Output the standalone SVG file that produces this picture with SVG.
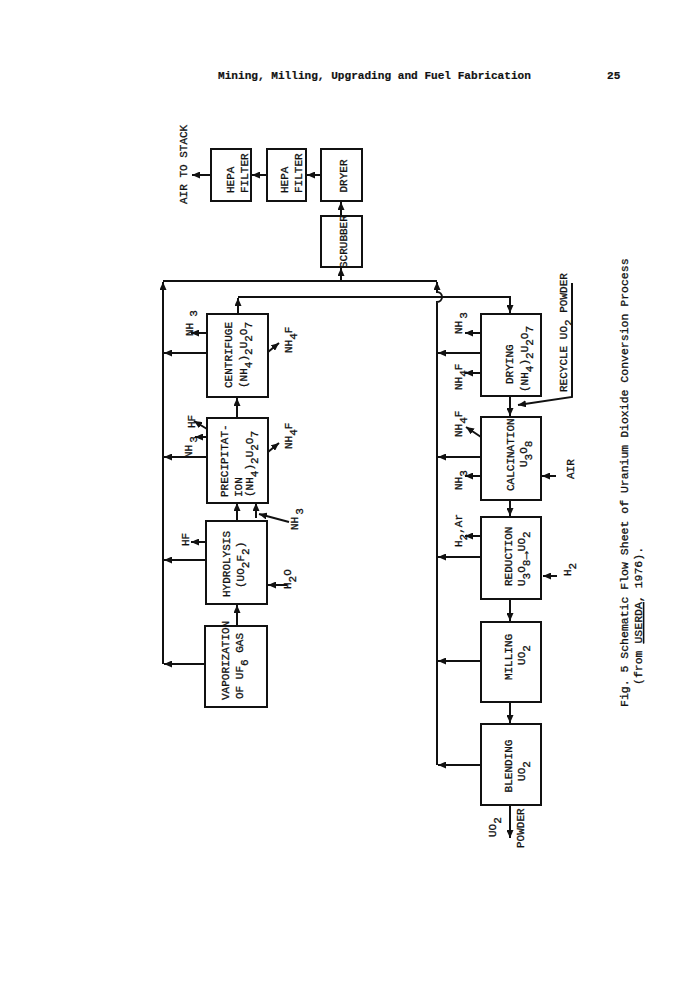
<svg xmlns="http://www.w3.org/2000/svg" width="700" height="1000" viewBox="0 0 700 1000">
<defs>
<marker id="ah" markerUnits="userSpaceOnUse" markerWidth="9" markerHeight="7" refX="8" refY="3.5" orient="auto"><path d="M0,0 L8,3.5 L0,7 z" fill="#111"/></marker>
<style>
.box{fill:#fff;stroke:#111;stroke-width:2}
.ln{fill:none;stroke:#111;stroke-width:2}
.ar{fill:none;stroke:#111;stroke-width:2;marker-end:url(#ah)}
text{font-family:"Liberation Mono","DejaVu Sans Mono",monospace;font-size:11px;fill:#111;stroke:#111;stroke-width:0.3}
.m{text-anchor:middle}
.hd{font-weight:bold;font-size:11.1px;stroke-width:0.2}
.cap{font-size:11.5px}
.big{font-size:14px;font-weight:bold}
</style>
</defs>
<rect width="700" height="1000" fill="#fff"/>

<text class="hd" x="218" y="79">Mining, Milling, Upgrading and Fuel Fabrication</text>
<text class="hd" x="607" y="79">25</text>

<g id="connectors">
<path class="ar" d="M321,175 H307"/>
<path class="ar" d="M267,175 H252"/>
<path class="ar" d="M211,175 H192"/>
<path class="ar" d="M341,216 V202"/>
<path class="ar" d="M341,281 V268"/>
<path class="ln" d="M163,281 H437"/>
<path class="ar" d="M163,664 V282"/>
<path class="ar" d="M437,765 V302 A5,5 0 0 0 437,292 V282"/>
<path class="ar" d="M238,314 V298"/>
<path class="ar" d="M238,297 H510 V313"/>
<path class="ar" d="M207,353 H164"/>
<path class="ar" d="M207,457 H164"/>
<path class="ar" d="M206,560 H164"/>
<path class="ar" d="M205,664 H164"/>
<path class="ar" d="M207,333 H191"/>
<path class="ar" d="M207,437 H195"/>
<path class="ar" d="M207,429 L194,421"/>
<path class="ar" d="M206,542 H191"/>
<path class="ar" d="M268,352 L279,343"/>
<path class="ar" d="M268,452 L279,443"/>
<path class="ar" d="M289,522 L259,514"/>
<path class="ar" d="M256,518 V503"/>
<path class="ar" d="M237,521 V503"/>
<path class="ar" d="M237,626 V605"/>
<path class="ar" d="M237,418 V398"/>
<path class="ar" d="M287,585 H268"/>
<path class="ar" d="M510,396 V416"/>
<path class="ar" d="M510,500 V516"/>
<path class="ar" d="M510,599 V621"/>
<path class="ar" d="M510,702 V723"/>
<path class="ar" d="M510,805 V838"/>
<path class="ar" d="M481,353 H438"/>
<path class="ar" d="M481,457 H438"/>
<path class="ar" d="M481,557 H438"/>
<path class="ar" d="M481,661 H438"/>
<path class="ar" d="M481,765 H438"/>
<path class="ar" d="M481,333 H465"/>
<path class="ar" d="M481,373 H465"/>
<path class="ar" d="M481,437 L466,427"/>
<path class="ar" d="M481,476 H465"/>
<path class="ar" d="M481,536 H465"/>
<path class="ar" d="M556,476 H542"/>
<path class="ar" d="M557,576 H543"/>
<path class="ar" d="M572,283 V397 L518,405"/>
</g>

<g id="hepa1"><rect class="box" x="211" y="149" width="40" height="52"/>
<text transform="translate(234,193) rotate(-90)">HEPA</text>
<text transform="translate(248,193) rotate(-90)">FILTER</text></g>
<g id="hepa2"><rect class="box" x="267" y="149" width="39" height="52"/>
<text transform="translate(288,193) rotate(-90)">HEPA</text>
<text transform="translate(302,193) rotate(-90)">FILTER</text></g>
<g id="dryer"><rect class="box" x="321" y="149" width="41" height="52"/>
<text class="m" transform="translate(347,176) rotate(-90)">DRYER</text></g>
<g id="scrubber"><rect class="box" x="321" y="216" width="41" height="51"/>
<text transform="translate(347,268) rotate(-90)">SCRUBBER</text></g>

<g id="centrifuge"><rect class="box" x="207" y="314" width="61" height="83"/>
<text transform="translate(232,388) rotate(-90)">CENTRIFUGE</text>
<text transform="translate(247,388) rotate(-90)">(NH<tspan dy="5">4</tspan><tspan dy="-5">)</tspan><tspan dy="5">2</tspan><tspan dy="-5">U</tspan><tspan dy="5">2</tspan><tspan dy="-5">O</tspan><tspan dy="5">7</tspan></text></g>
<g id="precipitation"><rect class="box" x="207" y="418" width="61" height="85"/>
<text transform="translate(228,497) rotate(-90)">PRECIPITAT-</text>
<text transform="translate(242,497) rotate(-90)">ION</text>
<text transform="translate(253,497) rotate(-90)">(NH<tspan dy="5">4</tspan><tspan dy="-5">)</tspan><tspan dy="5">2</tspan><tspan dy="-5">U</tspan><tspan dy="5">2</tspan><tspan dy="-5">O</tspan><tspan dy="5">7</tspan></text></g>
<g id="hydrolysis"><rect class="box" x="206" y="521" width="61" height="83"/>
<text transform="translate(230,597) rotate(-90)">HYDROLYSIS</text>
<text transform="translate(244,588) rotate(-90)">(UO<tspan dy="5">2</tspan><tspan dy="-5">F</tspan><tspan dy="5">2</tspan><tspan dy="-5">)</tspan></text></g>
<g id="vaporization"><rect class="box" x="205" y="626" width="62" height="81"/>
<text transform="translate(229,700) rotate(-90)">VAPORIZATION</text>
<text transform="translate(243,699) rotate(-90)">OF UF<tspan dy="5">6</tspan><tspan dy="-5"> GAS</tspan></text></g>

<g id="drying"><rect class="box" x="481" y="314" width="60" height="82"/>
<text transform="translate(513,384) rotate(-90)">DRYING</text>
<text transform="translate(528,392) rotate(-90)">(NH<tspan dy="5">4</tspan><tspan dy="-5">)</tspan><tspan dy="5">2</tspan><tspan dy="-5">U</tspan><tspan dy="5">2</tspan><tspan dy="-5">O</tspan><tspan dy="5">7</tspan></text></g>
<g id="calcination"><rect class="box" x="481" y="417" width="60" height="83"/>
<text transform="translate(514,491) rotate(-90)">CALCINATION</text>
<text transform="translate(527,467) rotate(-90)">U<tspan dy="5">3</tspan><tspan dy="-5">O</tspan><tspan dy="5">8</tspan></text></g>
<g id="reduction"><rect class="box" x="481" y="517" width="60" height="82"/>
<text transform="translate(512,586) rotate(-90)">REDUCTION</text>
<text transform="translate(525,586) rotate(-90)">U<tspan dy="5">3</tspan><tspan dy="-5">O</tspan><tspan dy="5">8</tspan><tspan class="big" dy="-1">→</tspan><tspan dy="-4">UO</tspan><tspan dy="5">2</tspan></text></g>
<g id="milling"><rect class="box" x="481" y="622" width="60" height="80"/>
<text class="m" transform="translate(512,657) rotate(-90)">MILLING</text>
<text class="m" transform="translate(525,655) rotate(-90)">UO<tspan dy="5">2</tspan></text></g>
<g id="blending"><rect class="box" x="481" y="724" width="60" height="81"/>
<text class="m" transform="translate(512,766) rotate(-90)">BLENDING</text>
<text class="m" transform="translate(525,771) rotate(-90)">UO<tspan dy="5">2</tspan></text></g>

<g id="labels">
<text transform="translate(187,204) rotate(-90)">AIR TO STACK</text>
<text transform="translate(193,336) rotate(-90)">NH<tspan dx="6" dy="4">3</tspan></text>
<text transform="translate(195,428) rotate(-90)">HF</text>
<text transform="translate(192,458) rotate(-90)">NH<tspan dx="2" dy="5">3</tspan></text>
<text transform="translate(189,546) rotate(-90)">HF</text>
<text transform="translate(292,353) rotate(-90)">NH<tspan dy="5">4</tspan><tspan dy="-5">F</tspan></text>
<text transform="translate(292,449) rotate(-90)">NH<tspan dy="5">4</tspan><tspan dy="-5">F</tspan></text>
<text transform="translate(298,530) rotate(-90)">NH<tspan dx="2" dy="5">3</tspan></text>
<text transform="translate(291,589) rotate(-90)">H<tspan dy="5">2</tspan><tspan dy="-5">O</tspan></text>
<text transform="translate(462,334) rotate(-90)">NH<tspan dx="2" dy="5">3</tspan></text>
<text transform="translate(462,390) rotate(-90)">NH<tspan dy="5">4</tspan><tspan dy="-5">F</tspan></text>
<text transform="translate(462,437) rotate(-90)">NH<tspan dy="5">4</tspan><tspan dy="-5">F</tspan></text>
<text transform="translate(462,490) rotate(-90)">NH<tspan dy="5">3</tspan></text>
<text transform="translate(462,547) rotate(-90)">H<tspan dy="5">2</tspan><tspan dy="-5">,Ar</tspan></text>
<text transform="translate(571,576) rotate(-90)">H<tspan dy="5">2</tspan></text>
<text transform="translate(574,479) rotate(-90)">AIR</text>
<text transform="translate(567,392) rotate(-90)">RECYCLE UO<tspan dy="5">2</tspan><tspan dy="-5"> POWDER</tspan></text>
<text transform="translate(496,837) rotate(-90)">UO<tspan dy="5">2</tspan></text>
<text transform="translate(524,848) rotate(-90)">POWDER</text>
</g>

<g id="caption">
<text class="cap" transform="translate(628,707) rotate(-90)">Fig. 5  Schematic Flow Sheet of Uranium Dioxide Conversion Process</text>
<text class="cap" transform="translate(642,685) rotate(-90)">(from <tspan text-decoration="underline">USERDA</tspan>, 1976).</text>
</g>
</svg>
